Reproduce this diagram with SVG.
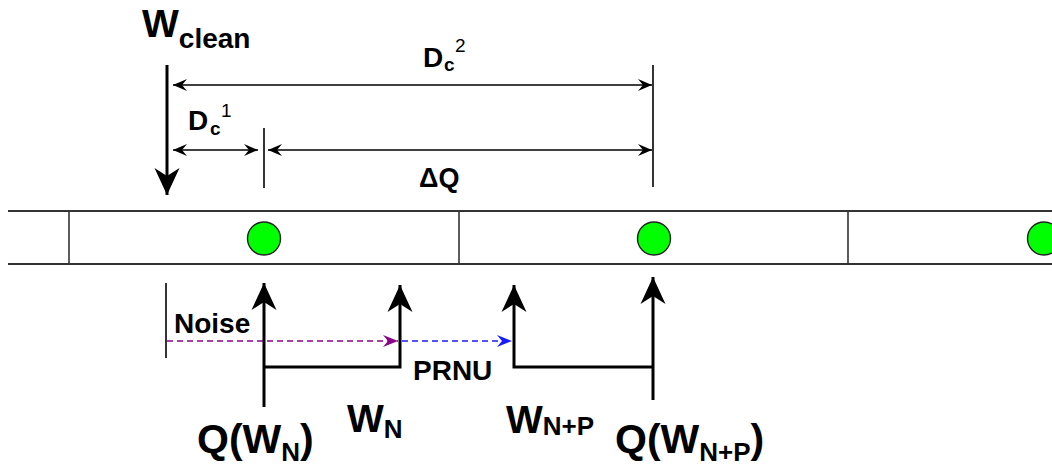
<svg xmlns="http://www.w3.org/2000/svg" width="1052" height="466" viewBox="0 0 1052 466">
<style>
text{font-family:"Liberation Sans",Arial,sans-serif;font-weight:bold;fill:#000}
.band{stroke:#333;stroke-width:2;fill:none}
.div{stroke:#333;stroke-width:1.6;fill:none}
.dot{fill:#00ff00;stroke:#222;stroke-width:1.4}
.dim{stroke:#000;stroke-width:1.6;fill:none}
.thick{stroke:#000;stroke-width:3;fill:none}
.noise{stroke:#8b008b;stroke-width:1.6;stroke-dasharray:6 4;fill:none}
.prnu{stroke:#1a1aff;stroke-width:1.6;stroke-dasharray:6 4;fill:none}
.sup{font-weight:normal}
</style>
<defs>
<marker id="dimA" viewBox="-15 -7 16 14" refX="0" refY="0" markerWidth="16" markerHeight="14" markerUnits="userSpaceOnUse" orient="auto-start-reverse">
<path d="M0,0 L-14,-6 L-9,0 L-14,6 Z" fill="#000"/>
</marker>
<marker id="bigA" viewBox="-28 -14 29 28" refX="0" refY="0" markerWidth="29" markerHeight="28" markerUnits="userSpaceOnUse" orient="auto">
<path d="M0,0 L-27,-12.5 L-19,0 L-27,12.5 Z" fill="#000"/>
</marker>
<marker id="noiseA" viewBox="-16 -7 17 14" refX="0" refY="0" markerWidth="17" markerHeight="14" markerUnits="userSpaceOnUse" orient="auto">
<path d="M0,0 L-15,-6 L-10,0 L-15,6 Z" fill="#8b008b"/>
</marker>
<marker id="prnuA" viewBox="-16 -7 17 14" refX="0" refY="0" markerWidth="17" markerHeight="14" markerUnits="userSpaceOnUse" orient="auto">
<path d="M0,0 L-15,-6 L-10,0 L-15,6 Z" fill="#1a1aff"/>
</marker>
</defs>

<g id="band">
<line class="band" x1="8" y1="211" x2="1052" y2="211"/>
<line class="band" x1="8" y1="264" x2="1052" y2="264"/>
<line class="div" x1="69" y1="211" x2="69" y2="264"/>
<line class="div" x1="459" y1="211" x2="459" y2="264"/>
<line class="div" x1="848" y1="211" x2="848" y2="264"/>
</g>
<g id="dot1"><circle class="dot" cx="264" cy="238.5" r="16.5"/></g>
<g id="dot2"><circle class="dot" cx="654" cy="238.5" r="16.5"/></g>
<g id="dot3"><circle class="dot" cx="1044" cy="238.5" r="16.5"/></g>

<g id="connectors">
<line class="thick" x1="167" y1="65" x2="167" y2="195" marker-end="url(#bigA)"/>
<line class="dim" x1="264" y1="128" x2="264" y2="188"/>
<line class="dim" x1="653" y1="65" x2="653" y2="187"/>
<line class="dim" x1="173" y1="85" x2="652" y2="85" marker-start="url(#dimA)" marker-end="url(#dimA)"/>
<line class="dim" x1="173" y1="150" x2="258" y2="150" marker-start="url(#dimA)" marker-end="url(#dimA)"/>
<line class="dim" x1="268" y1="150" x2="652" y2="150" marker-start="url(#dimA)" marker-end="url(#dimA)"/>
<line class="dim" x1="166" y1="283" x2="166" y2="358"/>
<line class="noise" x1="167" y1="341" x2="398" y2="341" marker-end="url(#noiseA)"/>
<line class="prnu" x1="402" y1="341" x2="512" y2="341" marker-end="url(#prnuA)"/>
<line class="thick" x1="264" y1="407" x2="264" y2="283" marker-end="url(#bigA)"/>
<path class="thick" d="M264,367 H400 V285" marker-end="url(#bigA)"/>
<path class="thick" d="M653,367 H514 V285" marker-end="url(#bigA)"/>
<line class="thick" x1="653" y1="400" x2="653" y2="277" marker-end="url(#bigA)"/>
</g>

<g id="labels">
<text x="142" y="37" font-size="39">W<tspan y="48" font-size="28">clean</tspan></text>
<text x="188" y="130" font-size="28">D<tspan x="210" y="135" font-size="19">c</tspan><tspan class="sup" x="221" y="117" font-size="19">1</tspan></text>
<text x="423" y="67" font-size="28">D<tspan x="444" y="71" font-size="19">c</tspan><tspan class="sup" x="455" y="52" font-size="19">2</tspan></text>
<text x="419" y="187" font-size="27">ΔQ</text>
<text x="174" y="333" font-size="28">Noise</text>
<text x="413" y="380" font-size="28">PRNU</text>
<text x="197" y="453" font-size="41">Q(W<tspan y="461" font-size="26">N</tspan><tspan y="453">)</tspan></text>
<text x="347" y="432" font-size="39">W<tspan y="438" font-size="26">N</tspan></text>
<text x="506" y="433" font-size="39">W<tspan y="435" font-size="26">N+P</tspan></text>
<text x="615" y="453" font-size="41">Q(W<tspan y="461" font-size="26">N+P</tspan><tspan y="453">)</tspan></text>
</g>
</svg>
